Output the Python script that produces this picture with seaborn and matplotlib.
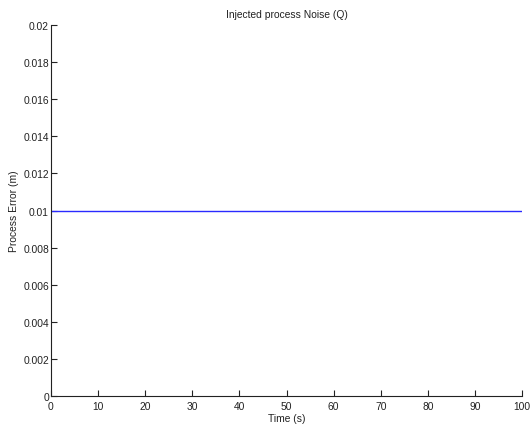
import matplotlib
matplotlib.use("Agg")
import matplotlib.pyplot as plt
import seaborn as sns
import pandas as pd

# Injected process noise over the simulation run
time_s = [0, 100]
process_error_m = [0.01, 0.01]

x_ticks = [0, 10, 20, 30, 40, 50, 60, 70, 80, 90, 100]
y_ticks = [0, 0.002, 0.004, 0.006, 0.008, 0.01, 0.012, 0.014, 0.016, 0.018, 0.02]
y_tick_labels = ["0", "0.002", "0.004", "0.006", "0.008", "0.01",
                 "0.012", "0.014", "0.016", "0.018", "0.02"]

FS = 7.4

sns.set_theme(style="ticks")
plt.rcParams["font.family"] = ["Liberation Sans", "DejaVu Sans"]
plt.rcParams["font.size"] = FS

df = pd.DataFrame({"Time (s)": time_s, "Process Error (m)": process_error_m})

fig = plt.figure(figsize=(5.31, 4.27), dpi=100)
ax = fig.add_axes([51 / 531, 1 - 397 / 427, (522 - 51) / 531, (397 - 26) / 427])

sns.lineplot(data=df, x="Time (s)", y="Process Error (m)", ax=ax,
             color="#2a2aff", linewidth=1.0)

ax.set_xlim(0, 100)
ax.set_ylim(0, 0.02)
ax.set_xticks(x_ticks)
ax.set_xticklabels([str(t) for t in x_ticks])
ax.set_yticks(y_ticks)
ax.set_yticklabels(y_tick_labels)

ax.tick_params(direction="in", length=4, width=0.8, colors="#222222",
               labelsize=FS, pad=1.5)
ax.tick_params(axis="x", pad=3.5)
for side in ("top", "right"):
    ax.spines[side].set_visible(False)
for side in ("left", "bottom"):
    ax.spines[side].set_linewidth(0.8)
    ax.spines[side].set_color("#222222")

ax.set_xlabel("Time (s)", fontsize=FS, labelpad=1.5, color="#222222")
ax.set_ylabel("Process Error (m)", fontsize=FS, labelpad=3, color="#222222")
ax.set_title("Injected process Noise (Q)", fontsize=FS, pad=6, color="#222222")

fig.savefig("out.png", dpi=100, facecolor="white")
